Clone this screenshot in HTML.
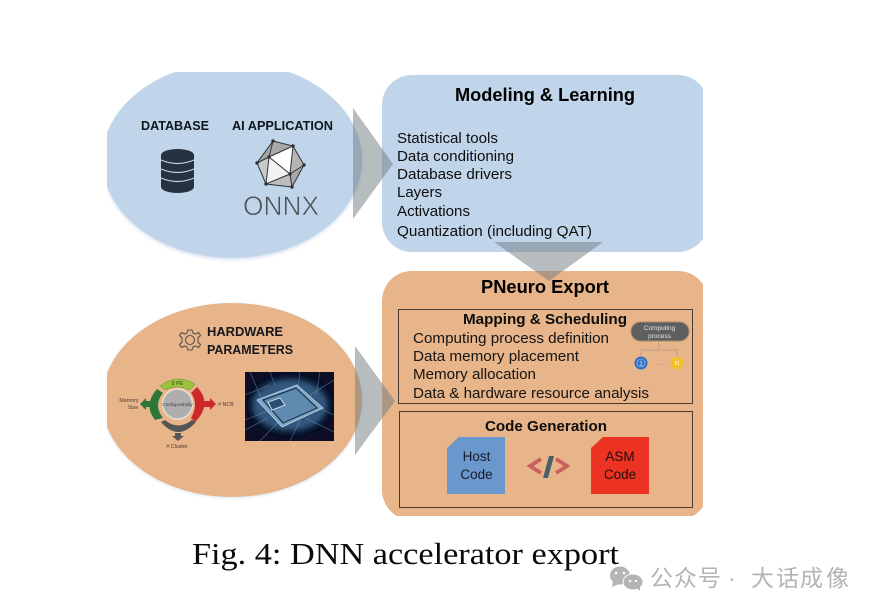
<!DOCTYPE html>
<html><head><meta charset="utf-8"><style>
html,body{margin:0;padding:0;background:#fff}
svg{display:block}
text{font-family:"Liberation Sans","Noto Sans CJK SC",sans-serif}
</style></head><body>
<svg width="876" height="612" viewBox="0 0 876 612" xmlns="http://www.w3.org/2000/svg">
<defs>
<clipPath id="c"><rect x="107" y="72" width="596" height="444"/></clipPath>
<clipPath id="ci"><rect x="245" y="372" width="89" height="69"/></clipPath>
<filter id="b" x="-5%" y="-5%" width="110%" height="110%"><feGaussianBlur stdDeviation="0.3"/></filter>
<filter id="s" x="-5%" y="-5%" width="110%" height="110%"><feGaussianBlur stdDeviation="1.5"/></filter>
<filter id="h" x="-30%" y="-30%" width="160%" height="160%"><feGaussianBlur stdDeviation="3"/></filter>
</defs>
<rect width="876" height="612" fill="#fff"/>
<g clip-path="url(#c)">
<ellipse cx="232" cy="162" rx="130" ry="98" fill="#c3d6ea" filter="url(#s)" opacity=".6"/>
<ellipse cx="232" cy="160" rx="130" ry="98" fill="#c1d5ea"/>
<ellipse cx="232" cy="401" rx="130" ry="97" fill="#c3d6ea" filter="url(#s)" opacity=".6"/>
<ellipse cx="232" cy="400" rx="130" ry="97" fill="#e8b48a"/>
<rect x="382" y="75" width="326" height="177" rx="30" fill="#c1d5ea"/>
<rect x="382" y="271" width="326" height="249" rx="30" fill="#e8b48a"/>
</g>
<polygon points="353,108 393,164 353,219" fill="#6f7a80" opacity=".5"/>
<polygon points="355,346 395,401 355,455" fill="#6f7a80" opacity=".5"/>
<polygon points="494,242 603,242 549,281" fill="#6f7a80" opacity=".5"/>

<g filter="url(#b)">
<text x="141" y="130" font-size="12.500" font-weight="bold" fill="#11161e" textLength="68" lengthAdjust="spacingAndGlyphs">DATABASE</text>
<text x="232" y="130" font-size="12.500" font-weight="bold" fill="#11161e" textLength="101" lengthAdjust="spacingAndGlyphs">AI APPLICATION</text>
<g fill="#26303f">
<ellipse cx="177.500" cy="155" rx="16.500" ry="6"/>
<rect x="161" y="155" width="33" height="32"/>
<ellipse cx="177.500" cy="187" rx="16.500" ry="6"/>
</g>
<g fill="none" stroke="#c1d5ea" stroke-width="1.200">
<path d="M161 160q16.500 7 33 0"/><path d="M161 169q16.500 7 33 0"/><path d="M161 178q16.500 7 33 0"/>
</g>
<polygon points="273,141 293,146 304,165 292,187 266,184 257,163" fill="#a8a8a8"/>
<polygon points="269,157 293,146 290,174" fill="#ffffff"/>
<polygon points="269,157 290,174 266,184" fill="#f2f2f2"/>
<polygon points="257,163 269,157 266,184" fill="#c9c9c9"/>
<polygon points="293,146 304,165 290,174" fill="#b5b5b5"/>
<polygon points="266,184 290,174 292,187" fill="#bdbdbd"/>
<g fill="none" stroke="#2f3338" stroke-width="1">
<polygon points="273,141 293,146 304,165 292,187 266,184 257,163"/>
<path d="M273 141L269 157L257 163M269 157L293 146L290 174L304 165M269 157L290 174L292 187M269 157L266 184L290 174"/>
</g>
<g fill="#2f3338"><circle cx="273" cy="141" r="1.700"/><circle cx="293" cy="146" r="1.700"/><circle cx="304" cy="165" r="1.700"/><circle cx="292" cy="187" r="1.700"/><circle cx="266" cy="184" r="1.700"/><circle cx="257" cy="163" r="1.700"/><circle cx="269" cy="157" r="1.700"/><circle cx="290" cy="174" r="1.700"/></g>
<text x="243" y="215" font-size="26.500" fill="#4d5257" stroke="#c1d5ea" stroke-width=".6" paint-order="normal" textLength="76" lengthAdjust="spacingAndGlyphs">ONNX</text>

<text x="207" y="336" font-size="13" font-weight="bold" fill="#15181c" textLength="76" lengthAdjust="spacingAndGlyphs">HARDWARE</text>
<text x="207" y="354" font-size="13" font-weight="bold" fill="#15181c" textLength="86" lengthAdjust="spacingAndGlyphs">PARAMETERS</text>
<g transform="translate(190 340)" fill="none" stroke="#55524e" stroke-width="1.100">
<circle r="4.500"/>
<path d="M-2-10L2-10L3-7L5.500-6L8.500-7.500L10.500-4.500L8-2.200L8 2.200L10.500 4.500L8.500 7.500L5.500 6L3 7L2 10L-2 10L-3 7L-5.500 6L-8.500 7.500L-10.500 4.500L-8 2.200L-8-2.200L-10.500-4.500L-8.500-7.500L-5.500-6L-3-7Z"/>
</g>
<circle cx="177.500" cy="404" r="15" fill="#aeaeae" stroke="#efe0d2" stroke-width="1.500"/>
<text x="177.500" y="406" font-size="4.800" text-anchor="middle" fill="#444">Configurability</text>
<path d="M160 386Q177 373 195 384L190 390Q177 384 165 390Z" fill="#9ac33e" stroke="#5c7d22" stroke-width=".4"/>
<text x="177.500" y="385" font-size="5.500" text-anchor="middle" fill="#3c4d18">8 PE</text>
<path d="M157 389Q143 405 155 420L163 418Q153 405 163 393Z" fill="#2d7437"/>
<polygon points="152,401 146,401 146,398 140,404 146,410 146,407 152,407" fill="#2d7437"/>
<path d="M197 387Q213 404 195 422L193 418Q201 404 193 393Z" fill="#cc2b2b"/>
<path d="M197 387Q209 404 195 422L191 418Q199 404 191 393Z" fill="#cc2b2b"/>
<polygon points="204,401 210,401 210,398 216,404 210,410 210,407 204,407" fill="#cc2b2b"/>
<path d="M161 422Q178 442 196 422L192 420Q178 431 165 420Z" fill="#555"/>
<polygon points="175,433 175,436 172,436 178,441 184,436 181,436 181,433" fill="#555"/>
<text x="129" y="402" font-size="5.300" text-anchor="middle" fill="#4a3a30">Memory</text>
<text x="133" y="409" font-size="5.300" text-anchor="middle" fill="#4a3a30">Size</text>
<text x="226" y="406" font-size="5.300" text-anchor="middle" fill="#4a3a30"># NCB</text>
<text x="177" y="448" font-size="5.300" text-anchor="middle" fill="#4a3a30"># Cluster</text>
<rect x="245" y="372" width="89" height="69" fill="#071027"/>
<g clip-path="url(#ci)">
<ellipse cx="290" cy="405" rx="38" ry="26" fill="#3f6f9c" filter="url(#h)" opacity=".75"/>
<g stroke="#7e9fc0" stroke-width=".6" opacity=".65" fill="none"><path d="M245 395L270 385M245 420L275 408M250 372L262 400M270 372L275 385M300 372L298 386M334 380L310 395M334 415L312 405M290 441L300 420M260 441L280 420M245 430L268 418M320 372L316 395M334 432L305 418"/></g>
<polygon points="257,400 297,385 323,408 282,427" fill="#7fa5c4" stroke="#b7d5ea" stroke-width=".8"/>
<polygon points="263,400 296,388 317,408 283,423" fill="#5f8bb0" stroke="#1a3550" stroke-width="1.200"/>
<polygon points="268,402 280,398 285,405 272,410" fill="#2a4f73" stroke="#d5e8f5" stroke-width=".9"/>
</g>

<text x="455" y="101" font-size="18" font-weight="bold" fill="#050505" textLength="180" lengthAdjust="spacingAndGlyphs">Modeling &amp; Learning</text>
<g font-size="14.500" fill="#0d0e10">
<text x="397" y="143" textLength="101" lengthAdjust="spacingAndGlyphs">Statistical tools</text>
<text x="397" y="161" textLength="117" lengthAdjust="spacingAndGlyphs">Data conditioning</text>
<text x="397" y="179" textLength="115" lengthAdjust="spacingAndGlyphs">Database drivers</text>
<text x="397" y="197" textLength="45" lengthAdjust="spacingAndGlyphs">Layers</text>
<text x="397" y="216" textLength="73" lengthAdjust="spacingAndGlyphs">Activations</text>
<text x="397" y="236" textLength="195" lengthAdjust="spacingAndGlyphs">Quantization (including QAT)</text>
</g>
<text x="481" y="293" font-size="18" font-weight="bold" fill="#050505" textLength="128" lengthAdjust="spacingAndGlyphs">PNeuro Export</text>
<rect x="398.500" y="309.500" width="294" height="94" fill="none" stroke="#4a3b30" stroke-width="1"/>
<rect x="399.500" y="411.500" width="293" height="96" fill="none" stroke="#4a3b30" stroke-width="1"/>
<text x="463" y="324" font-size="14.500" font-weight="bold" fill="#0a0a0a" textLength="164" lengthAdjust="spacingAndGlyphs">Mapping &amp; Scheduling</text>
<g font-size="14.500" fill="#141312">
<text x="413" y="343" textLength="196" lengthAdjust="spacingAndGlyphs">Computing process definition</text>
<text x="413" y="361" textLength="166" lengthAdjust="spacingAndGlyphs">Data memory placement</text>
<text x="413" y="379" textLength="123" lengthAdjust="spacingAndGlyphs">Memory allocation</text>
<text x="413" y="398" textLength="236" lengthAdjust="spacingAndGlyphs">Data &amp; hardware resource analysis</text>
</g>
<rect x="631" y="322" width="58" height="19" rx="9.500" fill="#5f5f5f" stroke="#a88b72" stroke-width="1"/>
<text x="659.500" y="330" font-size="6.500" text-anchor="middle" fill="#e6e6e6">Computing</text>
<text x="659.500" y="338" font-size="6.500" text-anchor="middle" fill="#e6e6e6">process</text>
<path d="M659 343V350M641 356V350H677V356" fill="none" stroke="#b09a85" stroke-width=".7"/>
<circle cx="641" cy="363" r="6.500" fill="#2f6fc4"/><circle cx="641" cy="363" r="4" fill="#2f6fc4" stroke="#bcd3ee" stroke-width=".6"/>
<text x="641" y="365.500" font-size="6" text-anchor="middle" fill="#fff">1</text>
<text x="660" y="365" font-size="7" text-anchor="middle" fill="#888">...</text>
<circle cx="677" cy="363" r="6.500" fill="#f0c02e"/>
<text x="677" y="365.500" font-size="6" text-anchor="middle" fill="#fff">N</text>

<text x="485" y="431" font-size="14.500" font-weight="bold" fill="#0a0a0a" textLength="122" lengthAdjust="spacingAndGlyphs">Code Generation</text>
<polygon points="459,437 505,437 505,494 447,494 447,448" fill="#6a97cc"/>
<text x="476.500" y="461" font-size="13.500" text-anchor="middle" fill="#131b26">Host</text>
<text x="476.500" y="479" font-size="13.500" text-anchor="middle" fill="#131b26">Code</text>
<polygon points="603,437 649,437 649,494 591,494 591,448" fill="#ec3323"/>
<text x="620" y="461" font-size="13.500" text-anchor="middle" fill="#1f0d0a">ASM</text>
<text x="620" y="479" font-size="13.500" text-anchor="middle" fill="#1f0d0a">Code</text>
<path d="M541 459L530 466L541 473" fill="none" stroke="#c9605c" stroke-width="3.800"/>
<path d="M556 459L567 466L556 473" fill="none" stroke="#c9605c" stroke-width="3.800"/>
<polygon points="549,456 554,456 548,478 543,478" fill="#46606a"/>
</g>

<text x="192" y="564" font-size="31" fill="#0a0a0a" style="font-family:'Liberation Serif',serif" textLength="427" lengthAdjust="spacingAndGlyphs">Fig. 4: DNN accelerator export</text>

<g fill="#b4b4b4">
<ellipse cx="620" cy="575.500" rx="10" ry="9"/><polygon points="613,581 612,587 619,584"/>
<ellipse cx="633" cy="582" rx="10" ry="8" stroke="#fff" stroke-width="1"/><polygon points="637,588 640,591 640,586"/>
</g>
<g fill="#fff"><circle cx="616" cy="573" r="1.300"/><circle cx="624" cy="573" r="1.300"/><circle cx="630" cy="581" r="1.100"/><circle cx="636" cy="581" r="1.100"/></g>
<text y="586" font-size="23" fill="#b4b4b4" x="650 674 698 728 751 776 800 826">公众号·大话成像</text>
</svg>
</body></html>
